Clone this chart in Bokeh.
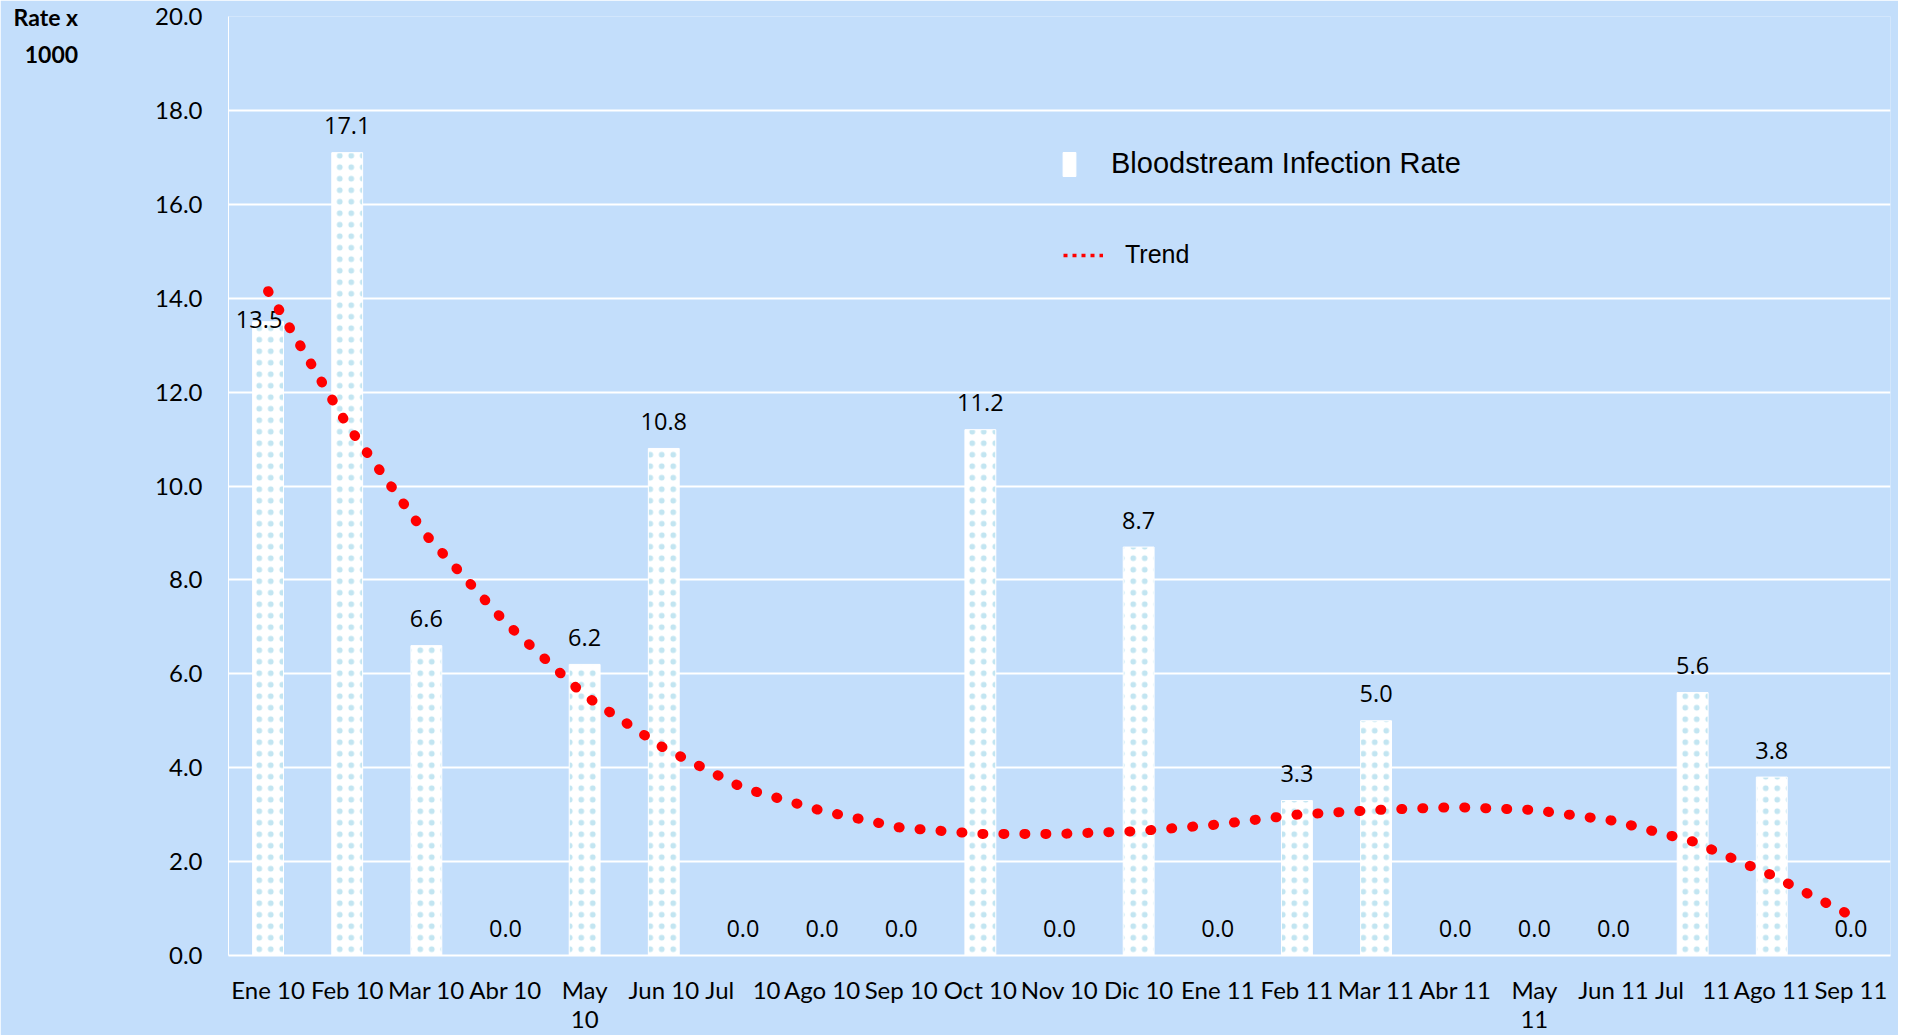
from bokeh.plotting import figure
from bokeh.models import (ColumnDataSource, FactorRange, Range1d, FixedTicker,
                          Legend, LegendItem, PrintfTickFormatter)
from bokeh.core.properties import value
from bokeh.embed import file_html
from bokeh.resources import INLINE

NB = "\u00a0"
months = ["Ene 10", "Feb 10", "Mar 10", "Abr 10", "May\n10", "Jun 10", "Jul" + NB * 3 + "10",
          "Ago 10", "Sep 10", "Oct 10", "Nov 10", "Dic 10", "Ene 11", "Feb 11", "Mar 11",
          "Abr 11", "May\n11", "Jun 11", "Jul" + NB * 3 + "11", "Ago 11", "Sep 11"]
rates = [13.5, 17.1, 6.6, 0.0, 6.2, 10.8, 0.0, 0.0, 0.0, 11.2, 0.0, 8.7, 0.0, 3.3, 5.0,
         0.0, 0.0, 0.0, 5.6, 3.8, 0.0]
trend = [14.15, 11.3, 8.95, 7.09, 5.54, 4.42, 3.57, 3.08, 2.72, 2.59, 2.59, 2.65, 2.79,
         3.0, 3.1, 3.16, 3.1, 2.87, 2.43, 1.71, 0.85]
y_ticks = [0, 2, 4, 6, 8, 10, 12, 14, 16, 18, 20]

BG = "#C3DEFB"

labels = ["%.1f" % r for r in rates]
dx = [-9 if i == 0 else 0 for i in range(len(rates))]
dy = [-2 if i == 0 else -27 for i in range(len(rates))]

src = ColumnDataSource(dict(month=months, rate=rates, trend=trend, label=labels, dx=dx, dy=dy))

p = figure(width=1898, height=1035,
           x_range=FactorRange(*months, range_padding=0), y_range=Range1d(0, 20),
           output_backend="svg", toolbar_location=None,
           min_border_left=228, min_border_right=8, min_border_top=16, min_border_bottom=79,
           background_fill_color=BG, border_fill_color=BG, outline_line_color=None)

p.vbar(x="month", top="rate", width=0.39, source=src, fill_color="white",
       line_color="white", line_width=1, hatch_pattern="dot", hatch_color="#c2e5f1",
       hatch_scale=11.5, hatch_weight=1)

p.text(x="month", y="rate", text="label", source=src, x_offset="dx", y_offset="dy",
       text_align="center", text_baseline="middle", text_font=value("Open Sans"),
       text_font_size="23.5px", text_color="black")

p.line(x="month", y="trend", source=src, line_color="#FF0000", line_width=10,
       line_dash="1 20", line_cap="round")

# legend proxies (one invisible point each so their styles resolve)
proxy = ColumnDataSource(dict(x=[months[0]], y=[float("nan")]))
leg_bar = p.vbar(x="x", top="y", width=0.39, source=proxy, fill_color="white", line_color="white")
leg_line = p.line(x="x", y="y", source=proxy, line_color="#FF0000", line_width=3.5, line_dash="4 5")

leg1 = Legend(items=[LegendItem(label="Bloodstream Infection Rate", renderers=[leg_bar])],
              location=(833, 775), glyph_width=16, glyph_height=30, label_standoff=34,
              label_text_font="Liberation Sans", label_text_font_size="29px",
              label_text_color="black",
              background_fill_alpha=0, border_line_alpha=0, padding=0, margin=0,
              spacing=0, label_height=30)
leg2 = Legend(items=[LegendItem(label="Trend", renderers=[leg_line])],
              location=(835, 686), glyph_width=40, glyph_height=28, label_standoff=22,
              label_text_font="Liberation Sans", label_text_font_size="25px",
              label_text_color="black",
              background_fill_alpha=0, border_line_alpha=0, padding=0, margin=0,
              spacing=0, label_height=28)
p.add_layout(leg1)
p.add_layout(leg2)

p.xgrid.grid_line_color = None
p.ygrid.grid_line_color = "white"
p.ygrid.grid_line_width = 2
p.yaxis.ticker = FixedTicker(ticks=y_ticks)
p.yaxis.formatter = PrintfTickFormatter(format="%.1f")

for ax in (p.xaxis[0], p.yaxis[0]):
    ax.axis_line_color = "white"
    ax.major_tick_line_color = None
    ax.minor_tick_line_color = None
    ax.major_tick_out = 0
    ax.major_tick_in = 0
    ax.major_label_text_font = "Lato"
    ax.major_label_text_font_size = "24px"
    ax.major_label_text_color = "black"
p.xaxis.axis_line_width = 2
p.yaxis.axis_line_width = 1
p.xaxis.major_label_standoff = 19
p.xaxis.major_label_text_line_height = 1.0
p.yaxis.major_label_standoff = 26

ya = p.yaxis[0]
ya.axis_label = NB + "\nRate x\n1000"
ya.axis_label_orientation = "horizontal"
ya.axis_label_align = "end"
ya.axis_label_standoff = 74
ya.axis_label_text_font = "Lato"
ya.axis_label_text_font_style = "bold"
ya.axis_label_text_font_size = "23px"
ya.axis_label_text_color = "black"
ya.axis_label_text_line_height = 1.35

open("out.html", "w").write(file_html(p, INLINE))
